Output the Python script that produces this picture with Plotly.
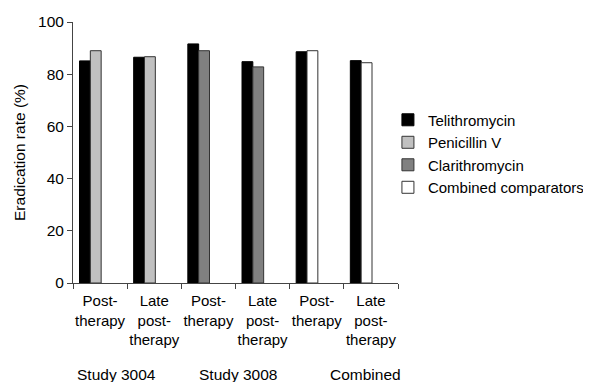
import plotly.graph_objects as go

categories = ["Post-<br>therapy", "Late<br>post-<br>therapy", "Post-<br>therapy",
              "Late<br>post-<br>therapy", "Post-<br>therapy", "Late<br>post-<br>therapy"]
group_labels = ["Study 3004", "Study 3008", "Combined"]
telithromycin = [85.1, 86.5, 91.6, 84.8, 88.6, 85.2]
penicillin_v = [89.0, 86.7, None, None, None, None]
clarithromycin = [None, None, 89.0, 82.8, None, None]
combined_comparators = [None, None, None, None, 89.0, 84.4]

x = list(range(len(categories)))
font = dict(family="Liberation Sans, Arial, sans-serif", size=15.5, color="black")
small_font = dict(family="Liberation Sans, Arial, sans-serif", size=15, color="black")

fig = go.Figure()
fig.add_bar(x=x, y=telithromycin, name="Telithromycin", offset=-0.38, width=0.2,
            marker=dict(color="black", line=dict(color="black", width=1)))
fig.add_bar(x=x, y=penicillin_v, name="Penicillin V", offset=-0.18, width=0.2,
            marker=dict(color="#C0C0C0", line=dict(color="#333333", width=1)))
fig.add_bar(x=x, y=clarithromycin, name="Clarithromycin", offset=-0.18, width=0.2,
            marker=dict(color="#808080", line=dict(color="#333333", width=1)))
fig.add_bar(x=x, y=combined_comparators, name="Combined comparators", offset=-0.18, width=0.2,
            marker=dict(color="white", line=dict(color="#333333", width=1)))

for lbl, xpos in zip(group_labels, [-0.46, 1.79, 4.2]):
    fig.add_annotation(text=lbl, x=xpos, xref="x", y=-0.35, yref="paper",
                       xanchor="left", yanchor="middle", showarrow=False, font=font)

fig.update_layout(
    width=600, height=374,
    margin=dict(l=65, r=210, t=14, b=99, autoexpand=False),
    paper_bgcolor="white", plot_bgcolor="white",
    font=font, barmode="overlay",
    showlegend=True,
    legend=dict(x=0.969, y=0.496, xanchor="left", yanchor="middle",
                font=small_font, bgcolor="rgba(0,0,0,0)", itemclick=False),
    xaxis=dict(range=[-0.5, 5.5], tickmode="array", tickvals=x, ticktext=categories,
               tickangle=0, automargin=False, tickfont=small_font,
               ticks="outside", ticklen=4, tickcolor="rgba(0,0,0,0)",
               showline=True, linecolor="#444444",
               linewidth=1, showgrid=False, zeroline=False, fixedrange=True,
               minor=dict(tickmode="linear", tick0=-0.5, dtick=1, ticks="outside",
                          ticklen=5, tickcolor="#444444", showgrid=False)),
    yaxis=dict(range=[0, 100], dtick=20, ticks="outside", ticklen=5, automargin=False,
               tickcolor="#444444", showline=True, linecolor="#444444", linewidth=1,
               showgrid=False, zeroline=False,
               title=dict(text="Eradication rate (%)", font=font, standoff=8)),
)

fig.write_html("out.html")
